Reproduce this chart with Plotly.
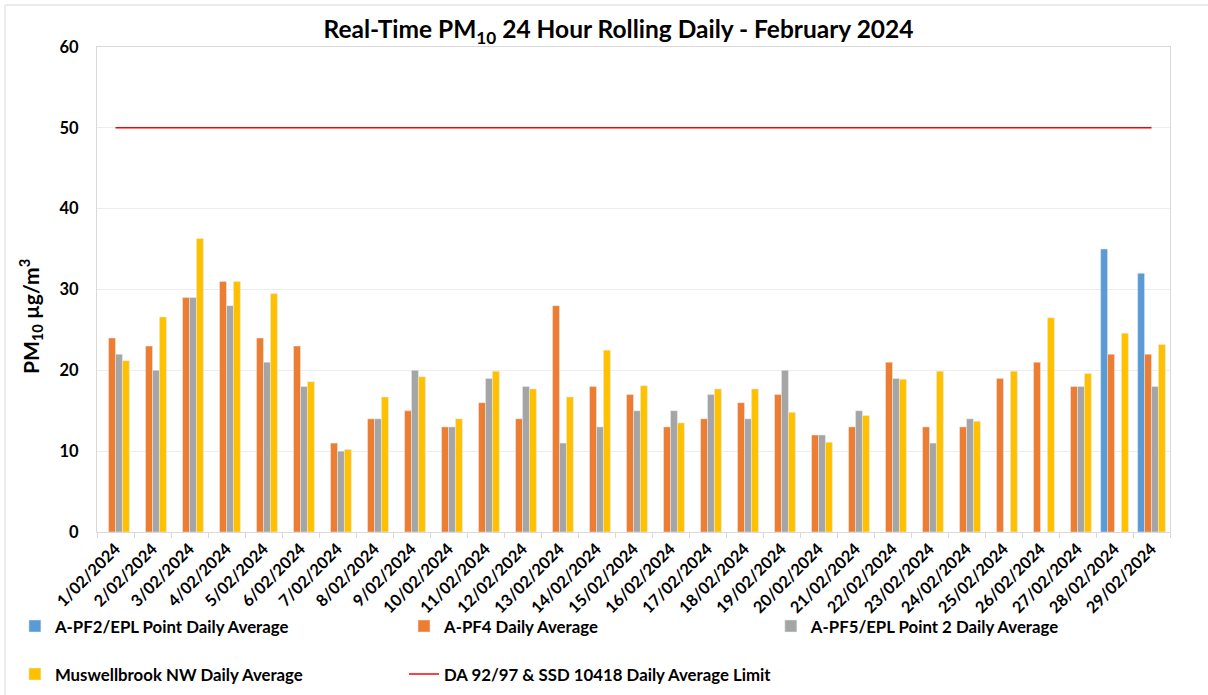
import plotly.graph_objects as go

dates = [f"{d}/02/2024" for d in range(1, 30)]

pf2 = [None]*27 + [35, 32]
pf4 = [24, 23, 29, 31, 24, 23, 11, 14, 15, 13, 16, 14, 28, 18, 17, 13, 14, 16, 17, 12,
       13, 21, 13, 13, 19, 21, 18, 22, 22]
pf5 = [22, 20, 29, 28, 21, 18, 10, 14, 20, 13, 19, 18, 11, 13, 15, 15, 17, 14, 20, 12,
       15, 19, 11, 14, None, None, 18, None, 18]
musw = [21.2, 26.6, 36.3, 31.0, 29.5, 18.6, 10.2, 16.7, 19.2, 14.0, 19.9, 17.7, 16.7, 22.5,
        18.1, 13.5, 17.7, 17.7, 14.8, 11.1, 14.4, 18.9, 19.9, 13.7, 19.9, 26.5, 19.6, 24.6, 23.2]
limit = [50]*29

FONT = "Lato"
fig = go.Figure()
fig.add_bar(x=dates, y=pf2, name="<b>A-PF2/EPL Point Daily Average</b>", marker_color="#5B9BD5", legend="legend")
fig.add_bar(x=dates, y=pf4, name="<b>A-PF4 Daily Average</b>", marker_color="#ED7D31", legend="legend2")
fig.add_bar(x=dates, y=pf5, name="<b>A-PF5/EPL Point 2 Daily Average</b>", marker_color="#A5A5A5", legend="legend3")
fig.add_bar(x=dates, y=musw, name="<b>Muswellbrook NW Daily Average</b>", marker_color="#FFC000", legend="legend4")
fig.add_scatter(x=dates, y=limit, mode="lines", name="<b>DA 92/97 & SSD 10418 Daily Average Limit</b>",
                line=dict(color="#FF0000", width=1.5), legend="legend5")
for tr in fig.data:
    tr.showlegend = True

def leg(x, y):
    return dict(x=x, y=y, orientation="h", xanchor="left", yanchor="middle", visible=True,
                font=dict(family=FONT, size=16.8, color="black"),
                bgcolor="rgba(0,0,0,0)", itemwidth=30)

r1, r2 = -0.194, -0.293
c1, c2, c3 = -0.0765, 0.2861, 0.628

fig.update_layout(
    width=1208, height=695, showlegend=True,
    margin=dict(l=97, r=38, t=47, b=163, autoexpand=False),
    paper_bgcolor="white", plot_bgcolor="white",
    barmode="group", bargap=0.25, bargroupgap=0,
    font=dict(family=FONT, color="black"),
    title=dict(text="<b>Real-Time PM<sub>10</sub> 24 Hour Rolling Daily - February 2024</b>",
               x=0.512, xanchor="center", y=0.957, yanchor="middle",
               font=dict(family=FONT, size=24.5, color="black")),
    xaxis=dict(type="category", tickangle=-45, tickfont=dict(family=FONT, size=16.3, color="black"),
               showline=True, linecolor="#D9D9D9", linewidth=1, mirror=True,
               ticks="outside", ticklen=5, tickcolor="#D9D9D9", showgrid=False,
               tickson="boundaries", automargin=False),
    yaxis=dict(range=[0, 60], dtick=10, tickfont=dict(family=FONT, size=16.5, color="black"),
               showgrid=True, gridcolor="#EDEDED", gridwidth=1, ticklabelstandoff=14,
               showline=True, linecolor="#D9D9D9", mirror=True, zeroline=False, automargin=False,
               title=dict(text="<b>PM<sub>10</sub> µg/m<sup>3</sup></b>" + "&nbsp;" * 10,
                          font=dict(family=FONT, size=21, color="black"), standoff=14)),
    legend=leg(c1, r1), legend2=leg(c2, r1), legend3=leg(c3, r1),
    legend4=leg(c1, r2), legend5=leg(c2, r2),
    shapes=[dict(type="rect", xref="paper", yref="paper", x0=-0.0857, x1=1.06, y0=-0.5, y1=1.0866,
                 line=dict(color="#D9D9D9", width=1), fillcolor="rgba(0,0,0,0)", layer="below")],
)
fig.update_xaxes(tickprefix="<b>", ticksuffix="</b>")
fig.update_yaxes(tickprefix="<b>", ticksuffix="</b>")

fig.write_html("out.html", config={"displayModeBar": False},
               post_script="document.body.style.margin='0px';")
